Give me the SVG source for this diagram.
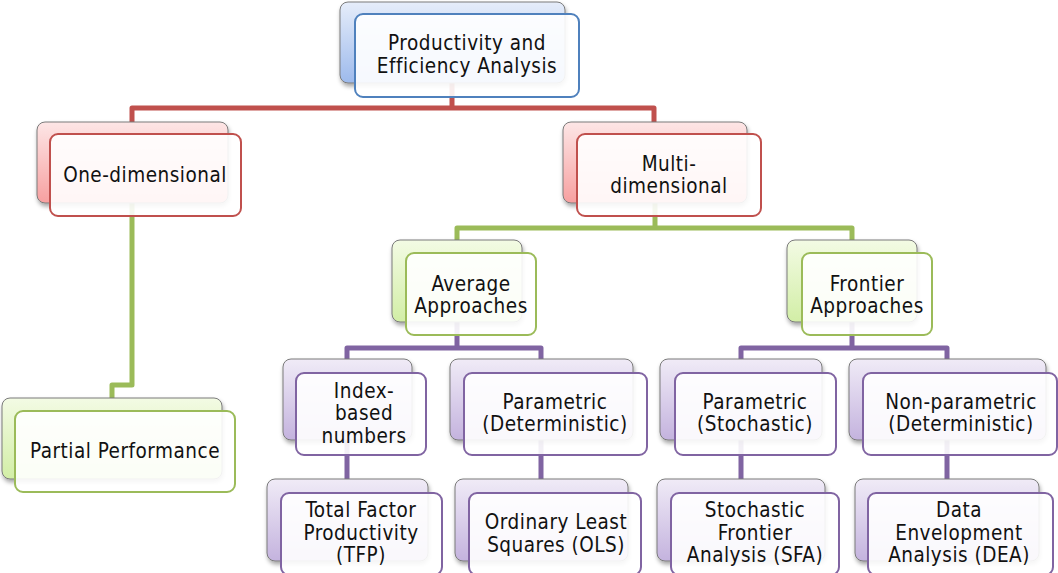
<svg xmlns="http://www.w3.org/2000/svg" width="1058" height="573" viewBox="0 0 1058 573">
<style>
.back{stroke:#7a7a7a;stroke-width:1;filter:url(#sh)}
.fr{fill:#fff;fill-opacity:0.9;stroke-width:2}
.b .back{fill:url(#gb)} .b .fr{stroke:#4f81bd}
.r .back{fill:url(#gr)} .r .fr{stroke:#c0504d}
.g .back{fill:url(#gg)} .g .fr{stroke:#9bbb59}
.p .back{fill:url(#gp)} .p .fr{stroke:#8064a2}
text{font-family:"DejaVu Sans Condensed","DejaVu Sans","Liberation Sans",sans-serif;font-size:20.5px;letter-spacing:0.5px;fill:#111;text-anchor:middle}
.c{fill:none;stroke-width:5;stroke-linejoin:round}
</style>
<defs>
<linearGradient id="gb" x1="0" y1="0" x2="0" y2="1"><stop offset="0" stop-color="#e6edfa"/><stop offset="1" stop-color="#9dbaec"/></linearGradient>
<linearGradient id="gr" x1="0" y1="0" x2="0" y2="1"><stop offset="0" stop-color="#fde6e6"/><stop offset="1" stop-color="#f7a0a0"/></linearGradient>
<linearGradient id="gg" x1="0" y1="0" x2="0" y2="1"><stop offset="0" stop-color="#f3fbe4"/><stop offset="1" stop-color="#d2eea6"/></linearGradient>
<linearGradient id="gp" x1="0" y1="0" x2="0" y2="1"><stop offset="0" stop-color="#f0ebf7"/><stop offset="1" stop-color="#c4b3de"/></linearGradient>
<filter id="sh" x="-10%" y="-10%" width="125%" height="130%"><feDropShadow dx="1" dy="3" stdDeviation="2" flood-color="#000" flood-opacity="0.35"/></filter>
</defs>
<g id="connectors">
<path class="c" stroke="#c0504d" d="M452,83 V108 M132,122 V108 H654 V122"/>
<path class="c" stroke="#9bbb59" d="M132,203 V385 H112 V398"/>
<path class="c" stroke="#9bbb59" d="M655,203 V228 M457,240 V228 H852 V240"/>
<path class="c" stroke="#8064a2" d="M457,322 V348 M347,359 V348 H541 V359"/>
<path class="c" stroke="#8064a2" d="M852,322 V348 M741,359 V348 H947 V359"/>
<path class="c" stroke="#8064a2" d="M347,440 V479 M541,440 V479 M741,440 V479 M947,440 V479"/>
</g>
<g id="n-top" class="b"><rect class="back" x="340" y="2" width="225" height="81" rx="8"/><rect class="fr" x="355" y="14" width="224" height="83" rx="8"/><text x="467" y="50">Productivity and</text><text x="467" y="73">Efficiency Analysis</text></g>
<g id="n-one" class="r"><rect class="back" x="37" y="122" width="191" height="81" rx="8"/><rect class="fr" x="50" y="134" width="191" height="82" rx="8"/><text x="145" y="182">One-dimensional</text></g>
<g id="n-multi" class="r"><rect class="back" x="563" y="122" width="184" height="81" rx="8"/><rect class="fr" x="577" y="134" width="184" height="82" rx="8"/><text x="669" y="171">Multi-</text><text x="669" y="193">dimensional</text></g>
<g id="n-partial" class="g"><rect class="back" x="2" y="398" width="220" height="81" rx="8"/><rect class="fr" x="15" y="411" width="220" height="81" rx="8"/><text x="125" y="458">Partial Performance</text></g>
<g id="n-avg" class="g"><rect class="back" x="392" y="240" width="130" height="82" rx="8"/><rect class="fr" x="406" y="253" width="130" height="82" rx="8"/><text x="471" y="291">Average</text><text x="471" y="313">Approaches</text></g>
<g id="n-frontier" class="g"><rect class="back" x="787" y="240" width="130" height="82" rx="8"/><rect class="fr" x="802" y="253" width="130" height="82" rx="8"/><text x="867" y="291">Frontier</text><text x="867" y="313">Approaches</text></g>
<g id="n-index" class="p"><rect class="back" x="283" y="359" width="129" height="81" rx="8"/><rect class="fr" x="296" y="373" width="130" height="82" rx="8"/><text x="364" y="398">Index-</text><text x="364" y="420">based</text><text x="364" y="443">numbers</text></g>
<g id="n-pdet" class="p"><rect class="back" x="450" y="359" width="183" height="81" rx="8"/><rect class="fr" x="464" y="373" width="183" height="82" rx="8"/><text x="555" y="409">Parametric</text><text x="555" y="431">(Deterministic)</text></g>
<g id="n-psto" class="p"><rect class="back" x="660" y="359" width="162" height="81" rx="8"/><rect class="fr" x="675" y="373" width="161" height="82" rx="8"/><text x="755" y="409">Parametric</text><text x="755" y="431">(Stochastic)</text></g>
<g id="n-nonp" class="p"><rect class="back" x="849" y="359" width="197" height="81" rx="8"/><rect class="fr" x="863" y="373" width="194" height="82" rx="8"/><text x="961" y="409">Non-parametric</text><text x="961" y="431">(Deterministic)</text></g>
<g id="n-tfp" class="p"><rect class="back" x="267" y="479" width="161" height="82" rx="8"/><rect class="fr" x="281" y="493" width="161" height="82" rx="8"/><text x="361" y="517">Total Factor</text><text x="361" y="540">Productivity</text><text x="361" y="562">(TFP)</text></g>
<g id="n-ols" class="p"><rect class="back" x="455" y="479" width="173" height="82" rx="8"/><rect class="fr" x="469" y="493" width="172" height="82" rx="8"/><text x="556" y="529">Ordinary Least</text><text x="556" y="552">Squares (OLS)</text></g>
<g id="n-sfa" class="p"><rect class="back" x="657" y="479" width="168" height="82" rx="8"/><rect class="fr" x="671" y="493" width="168" height="82" rx="8"/><text x="755" y="517">Stochastic</text><text x="755" y="540">Frontier</text><text x="755" y="562">Analysis (SFA)</text></g>
<g id="n-dea" class="p"><rect class="back" x="855" y="479" width="184" height="82" rx="8"/><rect class="fr" x="868" y="493" width="185" height="82" rx="8"/><text x="959" y="517">Data</text><text x="959" y="540">Envelopment</text><text x="959" y="562">Analysis (DEA)</text></g>
</svg>
